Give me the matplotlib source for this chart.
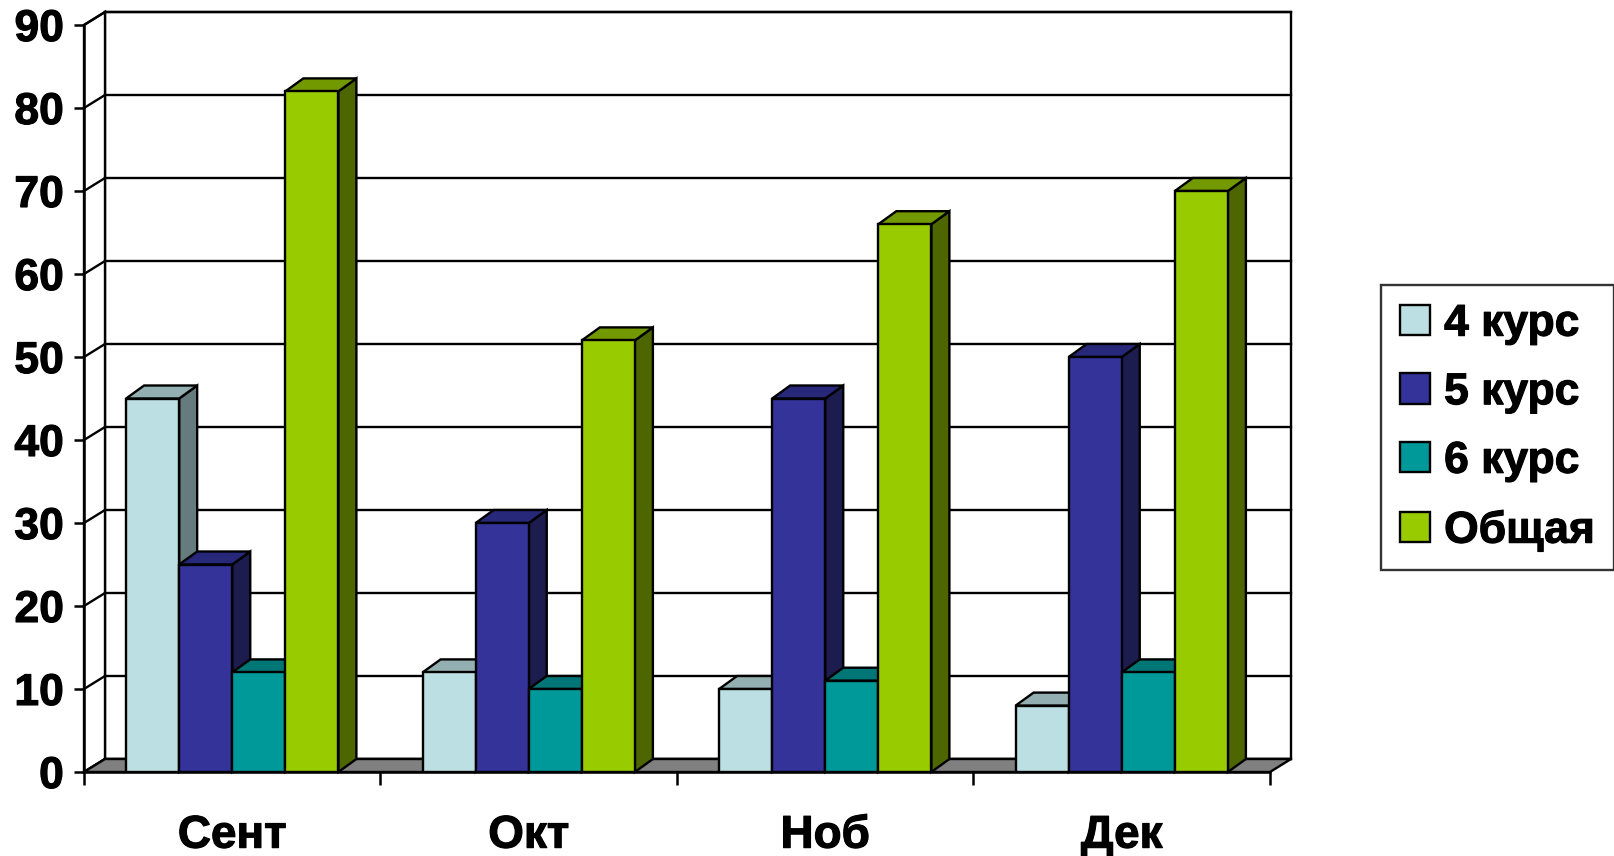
import matplotlib
matplotlib.use('Agg')
import matplotlib.pyplot as plt
import matplotlib.patheffects as pe
from matplotlib.patches import Polygon, Patch

# ---- data ----
categories = ['Сент', 'Окт', 'Ноб', 'Дек']
series_names = ['4 курс', '5 курс', '6 курс', 'Общая']
kurs4 = [45, 12, 10, 8]
kurs5 = [25, 30, 45, 50]
kurs6 = [12, 10, 11, 12]
total = [82, 52, 66, 70]
y_ticks = [0, 10, 20, 30, 40, 50, 60, 70, 80, 90]

series = [kurs4, kurs5, kurs6, total]
front_cols = ['#BBDFE2', '#333399', '#009999', '#99CC00']
side_cols = ['#667B7D', '#1C1C4F', '#005050', '#4D6600']
top_cols = ['#93AFB1', '#28287A', '#007676', '#739900']

plt.rcParams['font.family'] = ['Liberation Sans', 'DejaVu Sans']
plt.rcParams['font.weight'] = 'bold'

W, H = 1615, 856
fig = plt.figure(figsize=(W / 100, H / 100), dpi=100)
x0, x1, y0, y1 = 84, 1270, 772, 25
ax = fig.add_axes([x0 / W, 1 - y0 / H, (x1 - x0) / W, (y0 - y1) / H])
ax.set_xlim(0, len(categories))
ax.set_ylim(0, 90)
ax.set_facecolor('none')
for s in ['top', 'right']:
    ax.spines[s].set_visible(False)
for s in ['left', 'bottom']:
    ax.spines[s].set_linewidth(1.8)
    ax.spines[s].set_zorder(1)

px_x = (x1 - x0) / len(categories)
px_y = (y0 - y1) / 90.0
wdx, wdy = 21 / px_x, 13 / px_y     # wall depth
bdx, bdy = 18 / px_x, 13 / px_y     # bar depth
n = len(categories)
ymax = y_ticks[-1]
lw = 1.7

# back wall
ax.add_patch(Polygon([(wdx, wdy), (n + wdx, wdy), (n + wdx, ymax + wdy), (wdx, ymax + wdy)],
                     closed=True, facecolor='white', edgecolor='black', lw=lw,
                     clip_on=False, zorder=0.5))
# left side wall
ax.add_patch(Polygon([(0, 0), (wdx, wdy), (wdx, ymax + wdy), (0, ymax)],
                     closed=True, facecolor='white', edgecolor='black', lw=lw,
                     clip_on=False, zorder=0.6))
for t in y_ticks:
    ax.plot([wdx, n + wdx], [t + wdy, t + wdy], color='black', lw=lw, clip_on=False, zorder=0.7)
    ax.plot([0, wdx], [t, t + wdy], color='black', lw=lw, clip_on=False, zorder=0.7)
# floor
ax.add_patch(Polygon([(0, 0), (n, 0), (n + wdx, wdy), (wdx, wdy)],
                     closed=True, facecolor='#808080', edgecolor='black', lw=lw,
                     clip_on=False, zorder=0.8))

# bars
bw = 0.179
offsets = [-1.5, -0.5, 0.5, 1.5]
for ci in range(n):
    for si in range(len(series)):
        v = series[si][ci]
        left = ci + 0.5 + offsets[si] * bw - bw / 2
        right = left + bw
        z = 2 + ci * 10 + si
        ax.bar(left, v, width=bw, align='edge', color=front_cols[si],
               edgecolor='black', lw=lw, zorder=z + 0.3)
        ax.add_patch(Polygon([(right, 0), (right + bdx, bdy), (right + bdx, v + bdy), (right, v)],
                             closed=True, facecolor=side_cols[si], edgecolor='black', lw=lw,
                             clip_on=False, zorder=z + 0.1))
        ax.add_patch(Polygon([(left, v), (right, v), (right + bdx, v + bdy), (left + bdx, v + bdy)],
                             closed=True, facecolor=top_cols[si], edgecolor='black', lw=lw,
                             clip_on=False, zorder=z + 0.2))

stroke = [pe.withStroke(linewidth=0.8, foreground='black')]

# ticks
ax.set_yticks(y_ticks)
ax.set_yticklabels([str(t) for t in y_ticks], fontsize=32, fontweight='bold')
ax.tick_params(axis='y', direction='out', length=7.5, width=1.8, pad=7)
ax.set_xticks(range(n + 1))
ax.set_xticklabels([])
ax.tick_params(axis='x', which='major', direction='out', length=9.5, width=1.8)
ax.set_xticks([i + 0.5 for i in range(n)], minor=True)
ax.set_xticklabels(categories, minor=True, fontsize=33, fontweight='bold')
ax.tick_params(axis='x', which='minor', length=0, pad=30)
for lab in ax.get_yticklabels() + ax.get_xticklabels(minor=True):
    lab.set_path_effects(stroke)

# legend
handles = [Patch(facecolor=c, edgecolor='black', lw=1.7) for c in front_cols]
leg = fig.legend(handles, series_names, loc='upper left',
                 bbox_to_anchor=(1381 / W, 1 - 285 / H), bbox_transform=fig.transFigure,
                 borderaxespad=0, fancybox=False, frameon=True, edgecolor='black',
                 prop={'family': 'Liberation Sans', 'weight': 'bold', 'size': 32},
                 handlelength=0.68, handleheight=0.68, handletextpad=0.32,
                 labelspacing=0.62, borderpad=0.42)
leg.get_frame().set_linewidth(1.7)
for t in leg.get_texts():
    t.set_path_effects(stroke)

fig.savefig('out.png', dpi=100, facecolor='white')
